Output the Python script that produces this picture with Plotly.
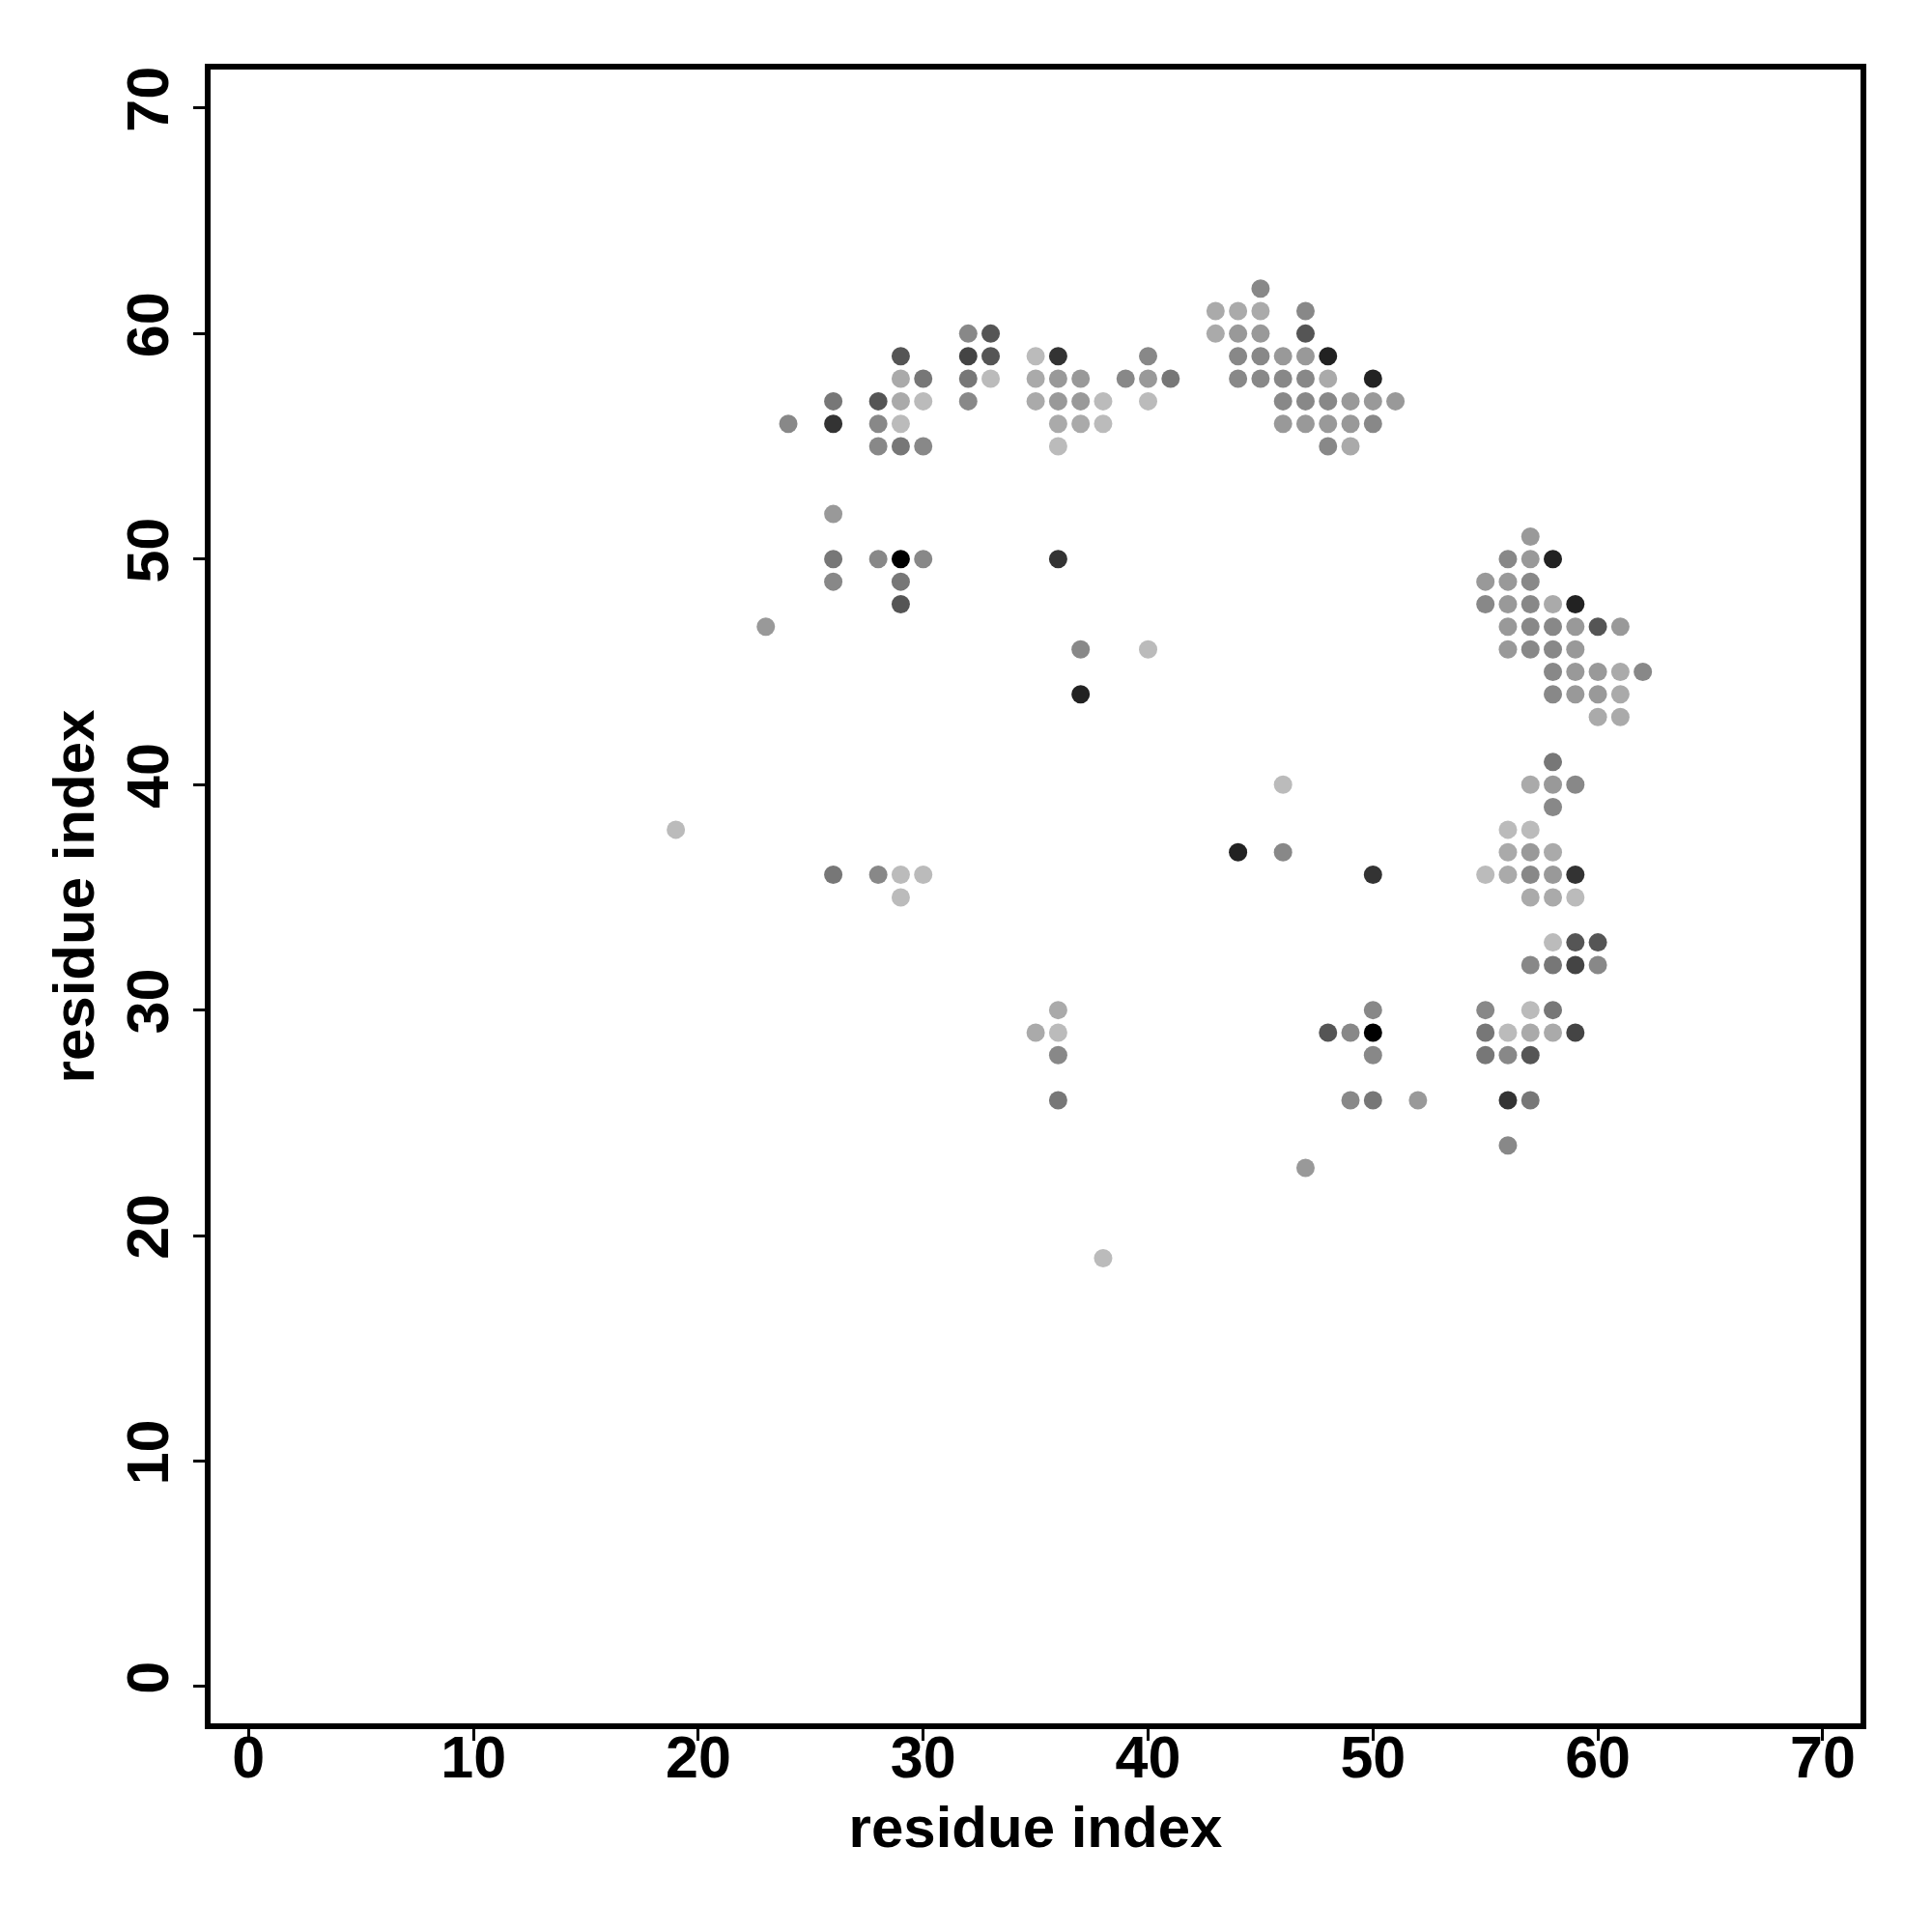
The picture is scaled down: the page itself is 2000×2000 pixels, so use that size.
import plotly.graph_objects as go

# contact map points: (residue i, residue j, grey level 0-255)
res_x = [24,
         26, 26, 26, 26, 26, 26,
         28, 28, 28, 28, 28,
         29, 29, 29, 29, 29, 29, 29, 29, 29, 29,
         30, 30, 30, 30, 30,
         32, 32, 32, 32,
         33, 33, 33,
         35, 35, 35, 35,
         36, 36, 36, 36, 36, 36, 36, 36, 36, 36,
         37, 37, 37, 37, 37,
         38, 38, 38,
         39,
         40, 40, 40, 40,
         41,
         19, 23,
         43, 43,
         44, 44, 44, 44, 44,
         45, 45, 45, 45, 45,
         46, 46, 46, 46, 46, 46,
         47, 47, 47, 47, 47, 47, 47,
         48, 48, 48, 48, 48, 48,
         49, 49, 49, 49, 49,
         50, 50, 50, 50, 50, 50, 50, 50,
         51, 52,
         55, 55, 55, 55, 55, 55,
         56, 56, 56, 56, 56, 56, 56, 56, 56, 56, 56, 56,
         57, 57, 57, 57, 57, 57, 57, 57, 57, 57, 57, 57, 57, 57, 57, 57,
         58, 58, 58, 58, 58, 58, 58, 58, 58, 58, 58, 58, 58, 58, 58, 58,
         59, 59, 59, 59, 59, 59, 59, 59, 59, 59, 59,
         60, 60, 60, 60, 60, 60,
         61, 61, 61, 61,
         62]
res_y = [56,
         57, 56, 52, 50, 49, 36,
         57, 56, 55, 50, 36,
         59, 58, 57, 56, 55, 50, 49, 48, 36, 35,
         58, 57, 55, 50, 36,
         60, 59, 58, 57,
         60, 59, 58,
         59, 58, 57, 29,
         59, 58, 57, 56, 55, 50, 30, 29, 28, 26,
         58, 57, 56, 46, 44,
         57, 56, 19,
         58,
         59, 58, 57, 46,
         58,
         38, 47,
         61, 60,
         61, 60, 59, 58, 37,
         62, 61, 60, 59, 58,
         59, 58, 57, 56, 40, 37,
         61, 60, 59, 58, 57, 56, 23,
         59, 58, 57, 56, 55, 29,
         57, 56, 55, 29, 26,
         58, 57, 56, 36, 30, 29, 28, 26,
         57, 26,
         49, 48, 36, 30, 29, 28,
         50, 49, 48, 47, 46, 38, 37, 36, 29, 28, 26, 24,
         51, 50, 49, 48, 47, 46, 40, 38, 37, 36, 35, 32, 30, 29, 28, 26,
         50, 48, 47, 46, 45, 44, 41, 40, 39, 37, 36, 35, 33, 32, 30, 29,
         48, 47, 46, 45, 44, 40, 36, 35, 33, 32, 29,
         47, 45, 44, 43, 33, 32,
         47, 45, 44, 43,
         45]
grey = [0x88,
        0x77, 0x33, 0x99, 0x77, 0x88, 0x77,
        0x55, 0x88, 0x88, 0x88, 0x88,
        0x55, 0xaa, 0xaa, 0xbb, 0x77, 0x00, 0x77, 0x55, 0xbb, 0xbb,
        0x77, 0xbb, 0x88, 0x88, 0xbb,
        0x88, 0x44, 0x77, 0x88,
        0x55, 0x55, 0xbb,
        0xbb, 0xaa, 0xaa, 0xaa,
        0x33, 0x99, 0x99, 0xaa, 0xbb, 0x33, 0xaa, 0xbb, 0x88, 0x77,
        0x99, 0x99, 0xaa, 0x88, 0x22,
        0xbb, 0xbb, 0xbb,
        0x88,
        0x88, 0x99, 0xbb, 0xbb,
        0x77,
        0xbb, 0x99,
        0xaa, 0xaa,
        0xaa, 0x99, 0x88, 0x88, 0x22,
        0x88, 0xaa, 0x99, 0x88, 0x88,
        0x99, 0x88, 0x88, 0x99, 0xbb, 0x88,
        0x88, 0x55, 0x99, 0x88, 0x88, 0x99, 0x99,
        0x22, 0xaa, 0x88, 0x99, 0x88, 0x55,
        0x99, 0x99, 0xaa, 0x88, 0x88,
        0x22, 0x99, 0x88, 0x33, 0x88, 0x00, 0x88, 0x77,
        0x99, 0x99,
        0x99, 0x88, 0xbb, 0x88, 0x77, 0x77,
        0x88, 0x99, 0x99, 0x99, 0x99, 0xbb, 0xaa, 0xaa, 0xbb, 0x88, 0x33, 0x88,
        0x99, 0x99, 0x88, 0x88, 0x88, 0x88, 0xaa, 0xbb, 0x99, 0x88, 0xaa, 0x88, 0xbb, 0xaa, 0x55, 0x77,
        0x22, 0xaa, 0x88, 0x88, 0x88, 0x88, 0x77, 0x99, 0x88, 0xaa, 0x99, 0xaa, 0xbb, 0x77, 0x77, 0xaa,
        0x22, 0x99, 0x99, 0x99, 0x99, 0x88, 0x33, 0xbb, 0x55, 0x44, 0x44,
        0x55, 0x99, 0x99, 0xaa, 0x55, 0x88,
        0x99, 0xaa, 0xaa, 0xaa,
        0x88]

tick_vals = [0, 10, 20, 30, 40, 50, 60, 70]
tick_text = ["0", "10", "20", "30", "40", "50", "60", "70"]

colors = [f"rgb({g},{g},{g})" for g in grey]

fig = go.Figure(go.Scatter(
    x=res_x, y=res_y, mode="markers",
    marker=dict(size=19, color=colors, line=dict(width=0)),
    showlegend=False,
))

font = dict(family="Liberation Sans, Arial, sans-serif", color="black")
axis_common = dict(
    tickvals=tick_vals, ticktext=tick_text,
    ticks="outside", ticklen=12, tickwidth=3, tickcolor="black",
    showgrid=False, zeroline=False,
    showline=True, linecolor="black", linewidth=6, mirror=True,
    tickfont=dict(size=61, weight="bold", **font),
)

fig.update_layout(
    width=2000, height=2000,
    margin=dict(l=210, r=82, t=64, b=224),
    plot_bgcolor="white", paper_bgcolor="white",
    xaxis=dict(range=[-1.69, 71.68],
               title=dict(text="residue index", font=dict(size=60, weight="bold", **font), standoff=20),
               ticklabelstandoff=-35,
               **axis_common),
    yaxis=dict(range=[-1.63, 71.71], tickangle=-90,
               title=dict(text="residue index", font=dict(size=60, weight="bold", **font), standoff=4),
               ticklabelstandoff=2,
               **axis_common),
)

fig.write_html("out.html")
